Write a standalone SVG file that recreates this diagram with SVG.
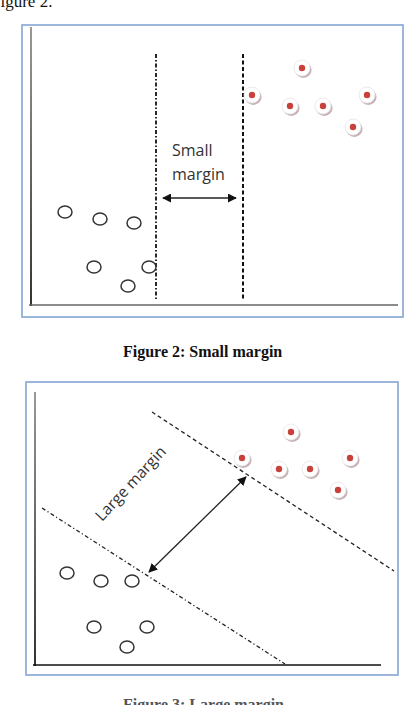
<svg xmlns="http://www.w3.org/2000/svg" width="411" height="705" viewBox="0 0 411 705">
<style>
.cap{font-family:"Liberation Serif","Times New Roman",serif;font-size:16px;fill:#111}
.capb{font-weight:bold}
.lbl{font-family:"Open Sans","Liberation Sans",sans-serif;font-size:16px;fill:#333}
.frame{fill:#fff;stroke:#85a5d3;stroke-width:1.6}
.open{fill:#fff;stroke:#333;stroke-width:1.5}
.arrow{stroke:#222;stroke-width:1.3;fill:none}
</style>
<defs>
<linearGradient id="yaxis" x1="0" y1="0" x2="0" y2="1">
<stop offset="0" stop-color="#999"/>
<stop offset="1" stop-color="#333"/>
</linearGradient>
<g id="pos">
<ellipse cx="1.3" cy="2" rx="8.3" ry="7.9" fill="#c9b2b5"/>
<circle cx="0" cy="0" r="8" fill="#fff" stroke="#e6e6e6" stroke-width="0.8"/>
<circle cx="0" cy="0" r="3.2" fill="#c8413b"/>
</g>
<marker id="ah" viewBox="0 0 10 10" refX="9" refY="5" markerWidth="9" markerHeight="9" markerUnits="userSpaceOnUse" orient="auto-start-reverse">
<path d="M0,0 L10,5 L0,10 z" fill="#111"/>
</marker>
</defs>

<text class="cap" x="-9" y="7" style="font-size:17px">Figure 2.</text>

<!-- Figure 2 -->
<g id="fig2-frame">
<rect class="frame" x="22" y="25" width="381" height="292"/>
<rect x="30" y="27" width="2" height="279" fill="url(#yaxis)"/>
<line x1="29" y1="305" x2="398" y2="305" stroke="#666" stroke-width="1.5"/>
</g>

<g id="connectors-fig2">
<line x1="156" y1="54" x2="156" y2="299" stroke="#111" stroke-width="1.8" stroke-dasharray="4 2 1.5 2"/>
<line x1="243" y1="54" x2="243" y2="299" stroke="#111" stroke-width="2" stroke-dasharray="4 2.5"/>
<line class="arrow" x1="163" y1="198" x2="236" y2="198" marker-start="url(#ah)" marker-end="url(#ah)"/>
</g>

<g id="small-margin-label">
<text class="lbl" x="172" y="156">Small</text>
<text class="lbl" x="172" y="180">margin</text>
</g>

<g id="fig2-negatives">
<ellipse class="open" cx="65" cy="212" rx="7" ry="6"/>
<ellipse class="open" cx="100" cy="219" rx="7" ry="6"/>
<ellipse class="open" cx="134" cy="223" rx="7" ry="6"/>
<ellipse class="open" cx="94" cy="267" rx="7" ry="6"/>
<ellipse class="open" cx="149" cy="267" rx="7" ry="6"/>
<ellipse class="open" cx="128" cy="286" rx="7" ry="6"/>
</g>

<g id="fig2-positives">
<use href="#pos" x="302" y="68"/>
<use href="#pos" x="252" y="95"/>
<use href="#pos" x="290" y="106"/>
<use href="#pos" x="323" y="106"/>
<use href="#pos" x="367" y="95"/>
<use href="#pos" x="353" y="127"/>
</g>

<text class="cap capb" x="123" y="357">Figure 2: Small margin</text>

<!-- Figure 3 -->
<g id="fig3-frame">
<rect class="frame" x="26" y="382" width="372" height="293"/>
<rect x="34" y="392" width="2" height="274" fill="url(#yaxis)"/>
<line x1="33" y1="665" x2="381" y2="665" stroke="#111" stroke-width="1.5"/>
</g>

<g id="connectors-fig3">
<line x1="152" y1="412" x2="394" y2="571" stroke="#222" stroke-width="1.3" stroke-dasharray="4 3"/>
<line x1="42" y1="508" x2="285" y2="664" stroke="#222" stroke-width="1.3" stroke-dasharray="4 2.5 1.2 2.5"/>
<line class="arrow" x1="149" y1="572" x2="246" y2="477" marker-start="url(#ah)" marker-end="url(#ah)"/>
</g>

<g id="large-margin-label">
<text class="lbl" x="0" y="0" style="font-size:15.5px" transform="translate(102,522) rotate(-47)">Large margin</text>
</g>

<g id="fig3-negatives">
<ellipse class="open" cx="67" cy="573" rx="7" ry="6"/>
<ellipse class="open" cx="101" cy="581" rx="7" ry="6"/>
<ellipse class="open" cx="132" cy="581" rx="7" ry="6"/>
<ellipse class="open" cx="94" cy="627" rx="7" ry="6"/>
<ellipse class="open" cx="147" cy="627" rx="7" ry="6"/>
<ellipse class="open" cx="127" cy="647" rx="7" ry="6"/>
</g>

<g id="fig3-positives">
<use href="#pos" x="291" y="432"/>
<use href="#pos" x="242" y="458"/>
<use href="#pos" x="279" y="469"/>
<use href="#pos" x="310" y="469"/>
<use href="#pos" x="350" y="458"/>
<use href="#pos" x="338" y="490"/>
</g>

<text class="cap capb" x="123" y="710" style="fill:#555">Figure 3: Large margin</text>
</svg>
